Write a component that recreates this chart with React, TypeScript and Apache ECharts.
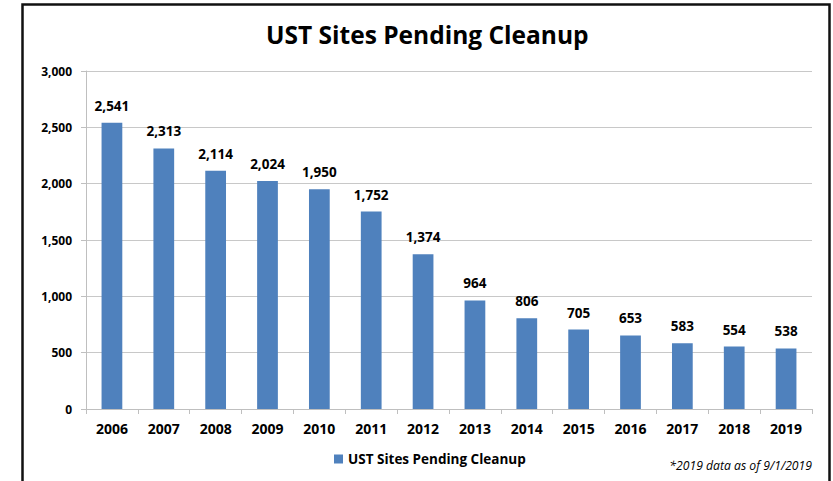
import React, { useEffect, useRef } from "react";
import * as echarts from "echarts";

const years = ["2006","2007","2008","2009","2010","2011","2012","2013","2014","2015","2016","2017","2018","2019"];
const pending = [2541, 2313, 2114, 2024, 1950, 1752, 1374, 964, 806, 705, 653, 583, 554, 538];
const seriesName = "UST Sites Pending Cleanup";
const titleText = "UST Sites Pending Cleanup";
const footnote = "*2019 data as of 9/1/2019";

const fmt = (v: number) => Number(v).toLocaleString("en-US");
const FONT = "'Open Sans', 'Liberation Sans', sans-serif";

export default function App() {
  const ref = useRef<HTMLDivElement>(null);
  useEffect(() => {
    const chart = echarts.init(ref.current!, null, { renderer: "svg" });
    chart.setOption({
      animation: false,
      backgroundColor: "#ffffff",
      title: {
        text: titleText,
        left: 261,
        top: 17,
        textStyle: { fontFamily: FONT, fontWeight: "bold", fontSize: 24.5, color: "#000" },
      },
      legend: {
        data: [seriesName],
        bottom: 10,
        left: 329,
        icon: "rect",
        itemWidth: 9,
        itemHeight: 9,
        itemGap: 5,
        textStyle: { fontFamily: FONT, fontWeight: "bold", fontSize: 13.5, color: "#000" },
      },
      grid: { left: 86, right: 21, top: 71, bottom: 72, containLabel: false },
      xAxis: {
        type: "category",
        data: years,
        axisLine: { lineStyle: { color: "#bfbfbf" } },
        axisTick: { show: true, length: 5, alignWithLabel: false, lineStyle: { color: "#bfbfbf" } },
        axisLabel: { fontFamily: FONT, fontWeight: "bold", fontSize: 14, color: "#000", margin: 12 },
      },
      yAxis: {
        type: "value",
        min: 0,
        max: 3000,
        interval: 500,
        axisLine: { show: true, lineStyle: { color: "#bfbfbf" } },
        axisTick: { show: true, length: 5, lineStyle: { color: "#bfbfbf" } },
        splitLine: { lineStyle: { color: "#c8c8c8" } },
        axisLabel: {
          fontFamily: FONT, fontWeight: "bold", fontSize: 12, color: "#000", margin: 14,
          formatter: (v: number) => fmt(v),
        },
      },
      series: [
        {
          name: seriesName,
          type: "bar",
          data: pending,
          barWidth: "40%",
          itemStyle: { color: "#4f81bd" },
          label: {
            show: true,
            position: "top",
            distance: 10,
            fontFamily: FONT,
            fontWeight: "bold",
            fontSize: 13.5,
            color: "#000",
            formatter: (p: any) => fmt(p.value),
          },
        },
      ],
      graphic: [
        {
          type: "rect",
          shape: { x: 22.5, y: 4.5, width: 807, height: 520 },
          style: { fill: "none", stroke: "#111", lineWidth: 2.5 },
          silent: true,
        },
        {
          type: "text",
          right: 21,
          top: 459,
          style: {
            text: footnote,
            fontFamily: FONT,
            fontStyle: "italic",
            fontSize: 12.2,
            fill: "#000",
          },
        },
      ],
    });
    return () => chart.dispose();
  }, []);
  return (
    <div
      ref={ref}
      style={{ position: "absolute", left: 0, top: 0, width: 833, height: 481 }}
    />
  );
}
